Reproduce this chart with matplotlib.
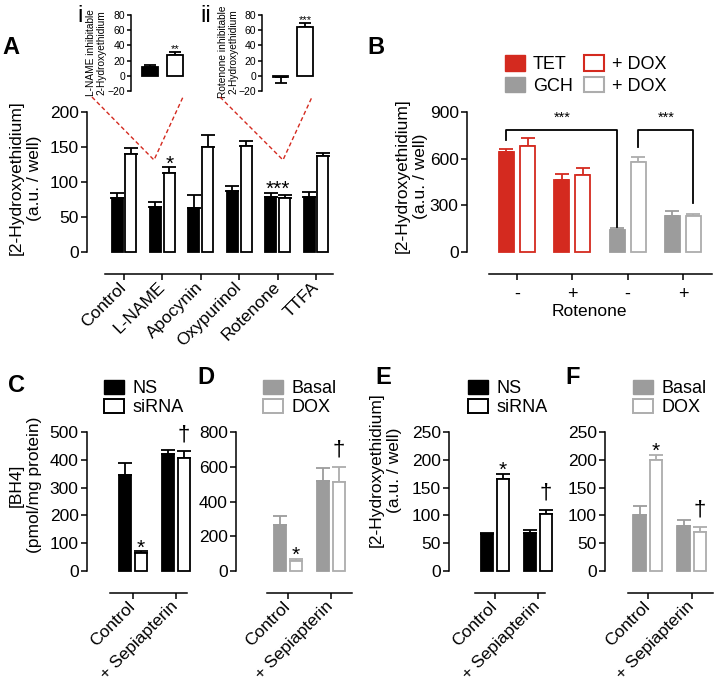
import numpy as np
import matplotlib
matplotlib.use("Agg")
from matplotlib import pyplot as plt
from matplotlib.lines import Line2D
from matplotlib.patches import Patch

plt.rcParams['font.family'] = ['Liberation Sans', 'DejaVu Sans']
plt.rcParams['axes.linewidth'] = 1.1

# ---- data ----
a_cats = ["Control", "L-NAME", "Apocynin", "Oxypurinol", "Rotenone", "TTFA"]
a_black = [77, 65, 63, 87, 79, 79]
a_black_err = [7, 7, 19, 7, 6, 7]
a_white = [140, 113, 150, 152, 77, 137]
a_white_err = [8, 8, 17, 7, 4, 4]

i_vals = [12, 28]
i_err = [2, 3]
ii_vals = [-1, 64]
ii_err = [8, 6]

b_cats = ["-", "+", "-", "+"]
b_filled = [643, 465, 144, 234]
b_filled_err = [21, 38, 10, 27]
b_open = [679, 493, 578, 234]
b_open_err = [56, 47, 33, 8]

cd_cats = ["Control", "+ Sepiapterin"]
c_ns = [346, 420]
c_ns_err = [41, 16]
c_si = [63, 406]
c_si_err = [8, 25]
d_basal = [265, 520]
d_basal_err = [50, 70]
d_dox = [58, 510]
d_dox_err = [12, 88]
e_ns = [66, 69]
e_ns_err = [2, 5]
e_si = [165, 102]
e_si_err = [10, 8]
f_basal = [100, 81]
f_basal_err = [17, 10]
f_dox = [199, 70]
f_dox_err = [10, 9]

RED = "#d42a1f"
GREY = "#9c9c9c"
GREY_EDGE = "#adadad"
FS = 12.5

W, H = 714, 683
fig = plt.figure(figsize=(W / 100, H / 100), dpi=100)


def panel(box, t0, step, span, ylim, yticks, cats=None, rot=45):
    # box / t0 / span are in figure pixels
    x0, y0, x1, y1 = box
    ax = fig.add_axes([x0 / W, 1 - y1 / H, (x1 - x0) / W, (y1 - y0) / H])
    ax.set_xlim((x0 - t0) / step, (x1 - t0) / step)
    ax.set_ylim(*ylim)
    ax.set_yticks(yticks)
    ax.spines['top'].set_visible(False)
    ax.spines['right'].set_visible(False)
    ax.patch.set_visible(False)
    ax.tick_params(axis='y', labelsize=FS, length=4.5, width=1.1, pad=1.5)
    if cats is None:
        ax.spines['bottom'].set_visible(False)
        ax.set_xticks([])
    else:
        ax.spines['bottom'].set_position(('outward', 16))
        ax.spines['bottom'].set_bounds((span[0] - t0) / step, (span[1] - t0) / step)
        ax.set_xticks(np.arange(len(cats)))
        if rot:
            ax.set_xticklabels(cats, rotation=rot, ha='right', va='center',
                               rotation_mode='anchor')
        else:
            ax.set_xticklabels(cats)
        ax.tick_params(axis='x', labelsize=FS, length=4.5, width=1.1, pad=3)
    return ax


def bars(ax, x, vals, errs, fc, ec, width, cap=5):
    n = len(vals)
    ecs = ec if isinstance(ec, list) else [ec] * n
    ax.bar(x, vals, width, color=fc, edgecolor=ecs, linewidth=1.3, zorder=3,
           clip_on=False)
    for xi, v, e, c in zip(x, vals, errs, ecs):
        yerr = [[e], [0]] if v < 0 else [[0], [e]]
        ax.errorbar([xi], [v], yerr=yerr, fmt='none', ecolor=c, elinewidth=1.3,
                    capsize=cap, capthick=1.3, zorder=2, clip_on=False)


def mark(ax, x, y, s, size=15, dy=-1.5):
    ax.annotate(s, (x, y), xytext=(0, dy), textcoords='offset points',
                ha='center', va='baseline', fontsize=size, annotation_clip=False)


def ylab(ax, text, right_px, cy_px, box, size=FS, ls=1.25):
    x0, y0, x1, y1 = box
    ax.set_ylabel(text, fontsize=size, linespacing=ls)
    ax.yaxis.set_label_coords((right_px - x0) / (x1 - x0), (y1 - cy_px) / (y1 - y0))


def letter(x, y, s, size=17, weight='bold'):
    fig.text(x / W, 1 - y / H, s, fontsize=size, weight=weight, va='center')


# ---- panel A ----
boxA = (87, 112, 335, 252)
axA = panel(boxA, 124, 38.4, (105, 333), (0, 200), range(0, 201, 50), a_cats)
xa = np.arange(len(a_cats))
bars(axA, xa - 0.18, a_black, a_black_err, 'black', 'black', 0.29)
bars(axA, xa + 0.18, a_white, a_white_err, 'white', 'black', 0.29)
ylab(axA, "[2-Hydroxyethidium]\n(a.u. / well)", 42, 178, boxA)
mark(axA, 1.18, a_white[1] + a_white_err[1], "*")
mark(axA, 4, a_black[4] + a_black_err[4], "***")

# insets
boxI = (131, 15, 192, 91)
axI = panel(boxI, 150, 25, None, (-20, 80), range(-20, 81, 20))
bars(axI, [0, 1], i_vals, i_err, ['black', 'white'], 'black', 0.64, cap=4.5)
axI.tick_params(axis='y', labelsize=7.5, length=3, pad=1)
ylab(axI, "L-NAME inhibitable\n2-Hydroxyethidium", 106, 53, boxI, size=7.3, ls=1.05)
mark(axI, 1, i_vals[1] + i_err[1], "**", size=8, dy=0)

boxII = (262, 15, 320, 91)
axII = panel(boxII, 280.5, 24.5, None, (-20, 80), range(-20, 81, 20))
bars(axII, [0, 1], ii_vals, ii_err, ['black', 'white'], 'black', 0.64, cap=4.5)
axII.tick_params(axis='y', labelsize=7.5, length=3, pad=1)
ylab(axII, "Rotenone inhibitable\n2-Hydroxyethidium", 238, 52, boxII, size=7.3, ls=1.05)
mark(axII, 1, ii_vals[1] + ii_err[1], "***", size=8, dy=0)

letter(2, 47, "A")
letter(77, 16, "i", size=17, weight='normal')
letter(200, 16, "ii", size=17, weight='normal')

for pts in [[(92, 97), (154, 160), (183, 97)], [(220, 97), (283, 160), (312, 97)]]:
    fig.add_artist(Line2D([p[0] / W for p in pts], [1 - p[1] / H for p in pts],
                          color=RED, lw=1.0, ls=(0, (3, 2))))

# ---- panel B ----
boxB = (467, 112, 712, 252)
axB = panel(boxB, 517, 55.3, (489, 712), (0, 900), range(0, 901, 300), b_cats, rot=0)
xb = np.arange(len(b_cats))
b_col = [RED, RED, GREY, GREY]
b_edge = [RED, RED, GREY_EDGE, GREY_EDGE]
bars(axB, xb - 0.19, b_filled, b_filled_err, b_col, b_col, 0.27)
bars(axB, xb + 0.19, b_open, b_open_err, 'white', b_edge, 0.27)
axB.tick_params(axis='x', labelsize=13, pad=4)
axB.set_xlabel("Rotenone", fontsize=FS, labelpad=1)
ylab(axB, "[2-Hydroxyethidium]\n(a.u. / well)", 428, 176, boxB)

# significance brackets
for (xl, yl, xr, yr) in [(xb[0] - 0.19, 720, xb[2] - 0.19, 160),
                         (xb[2] + 0.19, 675, xb[3] + 0.19, 315)]:
    top = 784
    axB.plot([xl, xl, xr, xr], [yl, top, top, yr], color='black', lw=1.3,
             clip_on=False)
    axB.text((xl + xr) / 2, top + 35, "***", ha='center', va='bottom', fontsize=10.5)

fig.legend(handles=[Patch(fc=RED, ec=RED), Patch(fc=GREY, ec=GREY),
                    Patch(fc='white', ec=RED, lw=1.5),
                    Patch(fc='white', ec=GREY_EDGE, lw=1.5)],
           labels=["TET", "GCH", "+ DOX", "+ DOX"], ncol=2, frameon=False,
           loc='upper left', bbox_to_anchor=(505 / W, 1 - 55 / H), fontsize=13,
           handlelength=1.1, handleheight=0.95, handletextpad=0.45,
           columnspacing=0.6, labelspacing=0.2, borderpad=0, borderaxespad=0)
letter(367, 47, "B")

# ---- panels C-F ----
lower = [
    ("C", (87, 432, 195, 571), 133, 43, (110, 187), 500, 100, c_ns, c_ns_err, c_si, c_si_err,
     'black', 'black', 'black', ("NS", "siRNA"), 104, (8, 386)),
    ("D", (236, 432, 355, 571), 288, 43, (267, 352), 800, 200, d_basal, d_basal_err, d_dox, d_dox_err,
     GREY, GREY, GREY_EDGE, ("Basal", "DOX"), 263, (197, 377)),
    ("E", (449, 432, 560, 571), 495, 43, (475, 545), 250, 50, e_ns, e_ns_err, e_si, e_si_err,
     'black', 'black', 'black', ("NS", "siRNA"), 468, (375, 377)),
    ("F", (605, 432, 714, 571), 648, 44, (628, 713), 250, 50, f_basal, f_basal_err, f_dox, f_dox_err,
     GREY, GREY, GREY_EDGE, ("Basal", "DOX"), 633, (565, 377)),
]
axes_low = {}
for (name, box, t0, step, span, top, dt, v1, e1, v2, e2, fc, ec, ec2, labs, lx, lpos) in lower:
    ax = panel(box, t0, step, span, (0, top), range(0, top + 1, dt), cd_cats)
    xx = np.arange(len(cd_cats))
    bars(ax, xx - 0.185, v1, e1, fc, ec, 0.29)
    bars(ax, xx + 0.185, v2, e2, 'white', ec2, 0.27)
    mark(ax, 0.185, v2[0] + e2[0], "*")
    mark(ax, 1.185, v2[1] + e2[1], "\u2020", size=16, dy=8)
    fig.legend(handles=[Patch(fc=fc, ec=ec), Patch(fc='white', ec=ec2, lw=1.4)],
               labels=list(labs), frameon=False, loc='upper left',
               bbox_to_anchor=(lx / W, 1 - 380 / H), fontsize=13,
               handlelength=1.1, handleheight=0.85, handletextpad=0.5,
               labelspacing=0.08, borderpad=0, borderaxespad=0)
    letter(lpos[0], lpos[1], name)
    axes_low[name] = (ax, box)

ylab(axes_low["C"][0], "[BH4]\n(pmol/mg protein)", 42, 485, axes_low["C"][1])
ylab(axes_low["E"][0], "[2-Hydroxyethidium]\n(a.u. / well)", 402, 470, axes_low["E"][1])

fig.savefig("out.png", dpi=100)
